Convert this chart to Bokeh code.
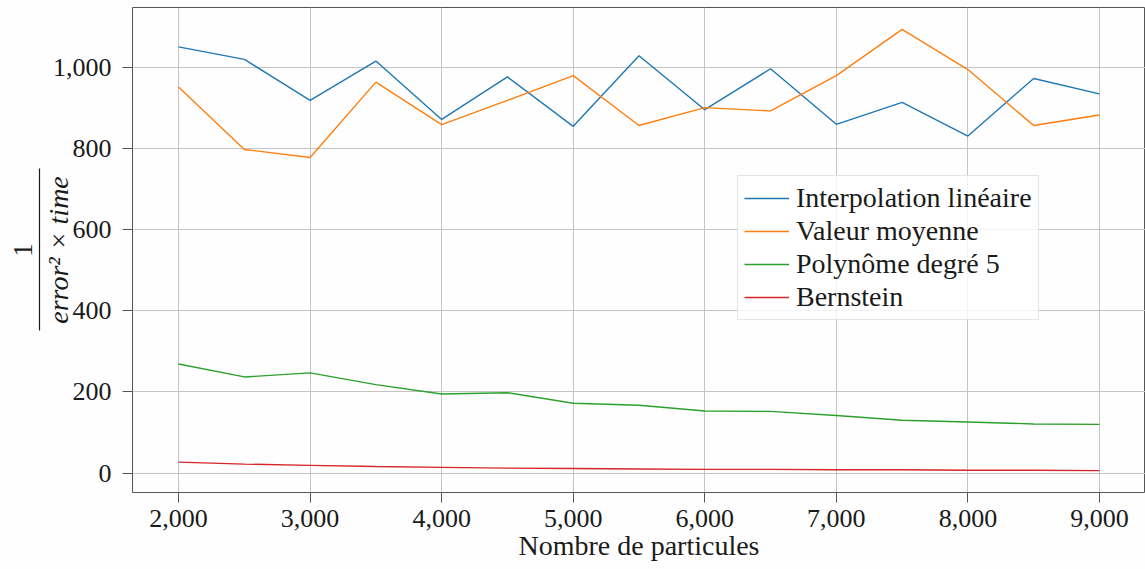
import math

from bokeh.embed import file_html
from bokeh.models import FixedTicker, LinearAxis, NumeralTickFormatter, Range1d
from bokeh.plotting import figure
from bokeh.resources import INLINE

# Nombre de particules
particles = [2000, 2500, 3000, 3500, 4000, 4500, 5000, 5500,
             6000, 6500, 7000, 7500, 8000, 8500, 9000]

# 1 / (error^2 * time) for each method
interp_lineaire = [1051, 1020, 919, 1016, 872, 977, 855, 1029,
                   896, 997, 860, 914, 831, 973, 935]
valeur_moyenne = [952, 798, 778, 964, 859, 919, 980, 857,
                  901, 893, 980, 1094, 995, 857, 883]
polynome_deg5 = [269, 237, 247, 218, 195, 198, 172, 167,
                 153, 152, 142, 130, 126, 121, 120]
bernstein = [27, 22, 19, 16, 14, 12, 11, 10,
             9, 9, 8, 8, 7, 7, 6]

series_names = ["Interpolation linéaire", "Valeur moyenne",
                "Polynôme degré 5", "Bernstein"]
series_colors = ["#1f77b4", "#ff7f0e", "#2ca02c", "#d62728"]

x_ticks = [2000, 3000, 4000, 5000, 6000, 7000, 8000, 9000]
y_ticks = [0, 200, 400, 600, 800, 1000]

FONT = "Liberation Serif"
AXIS_COLOR = "#555555"
GRID_COLOR = "#c4c4c4"
TEXT_COLOR = "#1a1a1a"

WIDTH, HEIGHT = 1145, 569
BORDER_L, BORDER_R, BORDER_T, BORDER_B = 132, 0, 7, 77
X0, X1 = 1650, 9350
Y0, Y1 = -48, 1148
FRAME_H = HEIGHT - BORDER_T - BORDER_B

p = figure(
    width=WIDTH, height=HEIGHT,
    min_border_left=BORDER_L, min_border_right=BORDER_R,
    min_border_top=BORDER_T, min_border_bottom=BORDER_B,
    x_range=Range1d(X0, X1), y_range=Range1d(Y0, Y1),
    output_backend="svg", toolbar_location=None,
    border_fill_color="#fefefe", background_fill_color="#fefefe",
)

# the box around the plot area is the outline; axis lines are left off
p.outline_line_color = AXIS_COLOR
p.outline_line_width = 1
p.outline_line_alpha = 1.0

for ys, name, color in zip(
        [interp_lineaire, valeur_moyenne, polynome_deg5, bernstein],
        series_names, series_colors):
    p.line(particles, ys, line_color=color, line_width=1.4, legend_label=name)

# axes
p.xaxis.ticker = FixedTicker(ticks=x_ticks)
p.yaxis.ticker = FixedTicker(ticks=y_ticks)
p.xaxis.formatter = NumeralTickFormatter(format="0,0")
p.yaxis.formatter = NumeralTickFormatter(format="0,0")
for ax in (p.xaxis, p.yaxis):
    ax.axis_line_color = None
    ax.major_tick_line_color = AXIS_COLOR
    ax.major_tick_in = 0
    ax.major_tick_out = 10
    ax.minor_tick_line_color = None
    ax.major_label_text_font = FONT
    ax.major_label_text_font_size = "26px"
    ax.major_label_text_color = TEXT_COLOR
p.xaxis.major_label_standoff = 7
p.yaxis.major_label_standoff = 11

p.xaxis.axis_label = "Nombre de particules"
p.xaxis.axis_label_text_font = FONT
p.xaxis.axis_label_text_font_size = "28px"
p.xaxis.axis_label_text_font_style = "normal"
p.xaxis.axis_label_text_color = TEXT_COLOR
p.xaxis.axis_label_standoff = 0

# y label as a stacked fraction 1 / (error^2 x time):
# denominator = label of the main y axis,
# fraction bar + numerator = an outer, tick-less axis limited by bounds
p.yaxis.axis_label = "error² × time"
p.yaxis.axis_label_text_font = FONT
p.yaxis.axis_label_text_font_size = "28px"
p.yaxis.axis_label_text_font_style = "italic"
p.yaxis.axis_label_text_color = TEXT_COLOR
p.yaxis.axis_label_standoff = -24


def px_to_y(py):
    """Canvas pixel row -> data y."""
    return Y0 + (HEIGHT - BORDER_B - py) * (Y1 - Y0) / FRAME_H


frac = LinearAxis(
    ticker=FixedTicker(ticks=[]), bounds=(px_to_y(330), px_to_y(168)),
    axis_line_color=TEXT_COLOR, axis_line_width=1.2,
    major_tick_out=0, major_tick_in=0, minor_tick_out=0, minor_tick_in=0,
    major_label_standoff=0,
    axis_label="1", axis_label_standoff=8,
    axis_label_text_font=FONT, axis_label_text_font_size="27px",
    axis_label_text_font_style="normal", axis_label_text_color=TEXT_COLOR,
)
p.add_layout(frac, "left")

# grid
p.xgrid.ticker = FixedTicker(ticks=x_ticks)
p.ygrid.ticker = FixedTicker(ticks=y_ticks)
p.grid.grid_line_color = GRID_COLOR
p.grid.grid_line_width = 1

# legend
lg = p.legend[0]
lg.location = (605, 172)
lg.label_text_font = FONT
lg.label_text_font_size = "28px"
lg.label_text_color = TEXT_COLOR
lg.border_line_color = "#cccccc"
lg.border_line_width = 1
lg.background_fill_alpha = 0.8
lg.glyph_width = 45
lg.glyph_height = 20
lg.label_standoff = 7
lg.label_height = 30
lg.spacing = 1
lg.padding = 6
lg.margin = 0

open("out.html", "w").write(file_html(p, INLINE))
